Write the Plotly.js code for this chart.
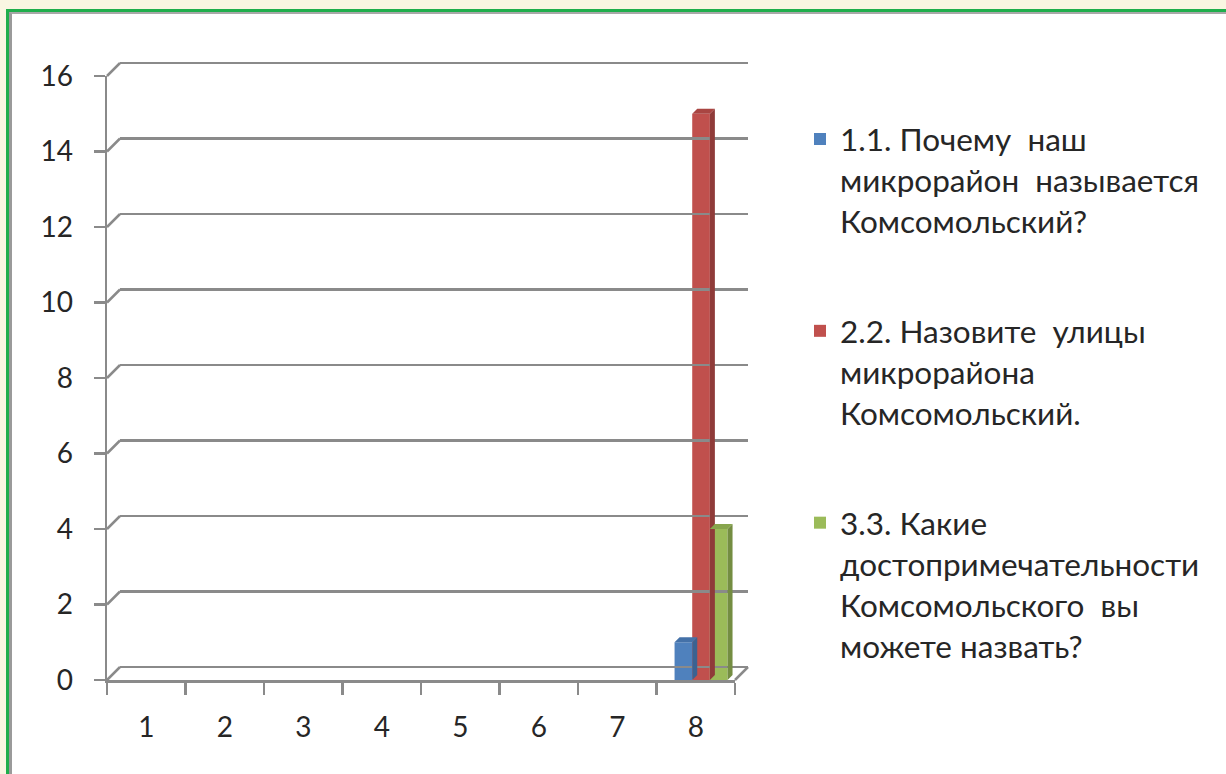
<!DOCTYPE html>
<html>
<head>
<meta charset="utf-8">
<script src="https://cdn.plot.ly/plotly-3.0.1.min.js"></script>
<style>
  html, body { margin: 0; padding: 0; width: 1226px; height: 774px; overflow: hidden; background: #f9f6e2; }
  #frame { position: absolute; left: 6px; top: 9px; width: 1240px; height: 800px;
           border-left: 3px solid #1fae4c; border-top: 3px solid #1fae4c; background: #ffffff; }
  #inner { position: absolute; left: 0; top: 0; right: 0; bottom: 0;
           border-left: 3px solid #9a9a9a; border-top: 2px solid #a8a8a8; }
  #chart { position: absolute; left: 0; top: 0; width: 1226px; height: 774px; }
</style>
</head>
<body>
<div id="frame"><div id="inner"></div></div>
<div id="chart"></div>
<script>
const categories = ['1', '2', '3', '4', '5', '6', '7', '8'];
const q1Values = [0, 0, 0, 0, 0, 0, 0, 1];
const q2Values = [0, 0, 0, 0, 0, 0, 0, 15];
const q3Values = [0, 0, 0, 0, 0, 0, 0, 4];
const seriesNames = [
  '1.1. Почему  наш<br>микрорайон  называется<br>Комсомольский?',
  '2.2. Назовите  улицы<br>микрорайона<br>Комсомольский.',
  '3.3. Какие<br>достопримечательности<br>Комсомольского  вы<br>можете назвать?'
];
const yTickValues = [0, 2, 4, 6, 8, 10, 12, 14, 16];

const W = 1226, H = 774;
const yMax = 16;
const frontLeft = 107, frontRight = 735, frontBottom = 680, frontTop = 76;
const depth = 13;                                  // 3D wall offset in px
const unitPx = (frontBottom - frontTop) / yMax;
const topPad = 0.5;                                // extra data units above the back wall
const plotL = frontLeft, plotR = frontRight + depth;
const plotB = frontBottom;
const plotT = Math.round(frontTop - depth - topPad * unitPx);
const plotWpx = plotR - plotL, plotHpx = plotB - plotT;
const xFrontEnd = (frontRight - frontLeft) / plotWpx;
const xBackStart = depth / plotWpx;
const yFrontEnd = (frontBottom - frontTop) / plotHpx;
const yBackStart = depth / plotHpx;
const yMax2 = (plotHpx - depth) / unitPx;
const dy = depth / unitPx;
const catPx = (frontRight - frontLeft) / categories.length;
const frontPaperY = v => v / yMax * yFrontEnd;
const backPaperY = v => yBackStart + v * unitPx / plotHpx;

const colors = ['#4f81bd', '#c0504d', '#9bbb59'];
const sideColors = ['#3b6291', '#8f3b39', '#748d42'];
const topColors = ['#4471a8', '#a94542', '#87a54d'];
const gray = '#8a8a8a';
const font = 'Lato, "Open Sans", sans-serif';
const textColor = '#262626';

const seriesValues = [q1Values, q2Values, q3Values];
const barWidth = 0.225;
const offsets = [-0.27, -0.045, 0.18];
const barDepthPx = 5;

const traces = seriesValues.map((vals, i) => ({
  type: 'bar',
  x: categories,
  y: vals,
  name: seriesNames[i],
  legendgroup: 'g' + i,
  marker: { color: colors[i] },
  width: barWidth,
  offset: offsets[i],
  xaxis: 'x',
  yaxis: 'y',
  hoverinfo: 'none'
}));
traces.push({ type: 'scatter', x: [], y: [], xaxis: 'x2', yaxis: 'y2', showlegend: false, hoverinfo: 'none' });

const shapes = [];
const bdx = barDepthPx / catPx, bdy = barDepthPx / unitPx;
seriesValues.forEach((vals, i) => {
  vals.forEach((v, c) => {
    if (v <= 0) return;
    const xl = c + offsets[i], xr = xl + barWidth;
    shapes.push({
      type: 'path', xref: 'x', yref: 'y', layer: 'above', line: { width: 0 },
      fillcolor: sideColors[i],
      path: `M ${xr} 0 L ${xr + bdx} ${bdy} L ${xr + bdx} ${v + bdy} L ${xr} ${v} Z`
    });
    shapes.push({
      type: 'path', xref: 'x', yref: 'y', layer: 'above', line: { width: 0 },
      fillcolor: topColors[i],
      path: `M ${xl} ${v} L ${xr} ${v} L ${xr + bdx} ${v + bdy} L ${xl + bdx} ${v + bdy} Z`
    });
  });
});
yTickValues.forEach(v => shapes.push({
  type: 'line', xref: 'paper', yref: 'paper',
  x0: 0, y0: frontPaperY(v), x1: xBackStart, y1: backPaperY(v),
  line: { color: gray, width: 2.5 }
}));
shapes.push({
  type: 'line', xref: 'paper', yref: 'paper',
  x0: xFrontEnd, y0: frontPaperY(0), x1: 1, y1: backPaperY(0),
  line: { color: gray, width: 2.5 }
});

const layout = {
  width: W, height: H,
  margin: { l: plotL, r: W - plotR, t: plotT, b: H - plotB, pad: 0 },
  paper_bgcolor: 'rgba(0,0,0,0)',
  plot_bgcolor: 'rgba(0,0,0,0)',
  font: { family: font, size: 29, color: textColor },
  showlegend: true,
  barmode: 'group',
  xaxis: {
    domain: [0, xFrontEnd], anchor: 'y', type: 'category',
    categoryorder: 'array', categoryarray: categories,
    range: [-0.5, categories.length - 0.5],
    showline: true, linecolor: gray, linewidth: 2.5,
    ticks: 'outside', tickson: 'boundaries', ticklen: 12, tickwidth: 2.5, tickcolor: gray,
    ticklabelstandoff: 21,
    showgrid: false, zeroline: false,
    tickfont: { family: font, size: 28, color: textColor }
  },
  yaxis: {
    domain: [0, yFrontEnd], anchor: 'x',
    range: [0, yMax], tickvals: yTickValues,
    showline: true, linecolor: gray, linewidth: 2.5,
    ticks: 'outside', ticklen: 11, tickwidth: 2.5, tickcolor: gray,
    ticklabelstandoff: 15,
    showgrid: false, zeroline: false,
    tickfont: { family: font, size: 28, color: textColor }
  },
  xaxis2: {
    domain: [xBackStart, 1], anchor: 'y2', range: [0, 1],
    showline: false, showgrid: false, zeroline: false, showticklabels: false, ticks: ''
  },
  yaxis2: {
    domain: [yBackStart, 1], anchor: 'x2', range: [0, yMax2], tickvals: yTickValues,
    showgrid: true, gridcolor: gray, gridwidth: 2.5,
    zeroline: true, zerolinecolor: gray, zerolinewidth: 2.5,
    showline: false, showticklabels: false, ticks: ''
  },
  legend: {
    xref: 'container', yref: 'container',
    x: 800 / W, y: 1 - 112 / H, xanchor: 'left', yanchor: 'top',
    traceorder: 'grouped', tracegroupgap: 66, valign: 'top',
    maxheight: 700,
    bgcolor: 'rgba(0,0,0,0)',
    font: { family: font, size: 31.5, color: textColor }
  },
  shapes: shapes
};

Plotly.newPlot('chart', traces, layout, { staticPlot: true, displayModeBar: false });
</script>
</body>
</html>
